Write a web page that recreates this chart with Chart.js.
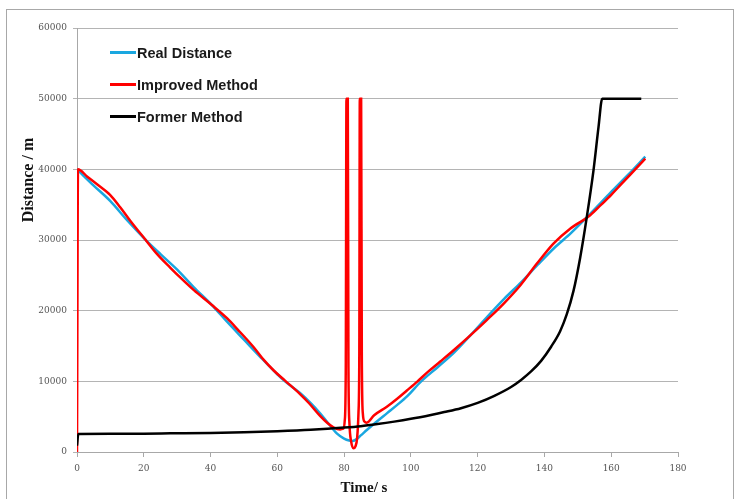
<!DOCTYPE html>
<html>
<head>
<meta charset="utf-8">
<title>Distance vs Time</title>
<script src="https://cdn.jsdelivr.net/npm/chart.js@4.4.1/dist/chart.umd.min.js"></script>
<style>
    html, body { margin: 0; padding: 0; background: #fff; }
    #wrap { width: 738px; height: 499px; }
</style>
</head>
<body>
<div id="wrap"><canvas id="distCanvas" width="738" height="499"></canvas></div>
<script>
// Data (time in s, distance in m)
const xTicks = [0, 20, 40, 60, 80, 100, 120, 140, 160, 180];
const yTicks = [0, 10000, 20000, 30000, 40000, 50000, 60000];

const realTime = [0, 5, 10, 15, 20.4, 25, 30, 35, 40.4, 45, 50, 55, 60, 62.3, 66.8, 70, 72.8, 75, 77.8, 80, 81.5, 82.5, 83.5, 85, 86.8, 89, 92.8, 96, 99, 103, 108, 113, 118, 123, 128, 133, 138, 143, 148, 153.7, 160, 165, 170.2];
const realDist = [40000, 37700, 35500, 32800, 30100, 28000, 25800, 23300, 20800, 18400, 15900, 13400, 11000, 10000, 8340, 6900, 5470, 4200, 2640, 1900, 1620, 1560, 1750, 2350, 3110, 4000, 5470, 6700, 7950, 9950, 12000, 14100, 16600, 19200, 21700, 24000, 26500, 28900, 31000, 33700, 36800, 39200, 41800];

const improvedTime = [0, 0.3, 3, 6, 9.9, 13, 16, 20.4, 24, 27.9, 30.9, 35, 40.4, 45, 48, 52.8, 56, 59, 62.3, 66.8, 69.5, 72.8, 75, 76.8, 78.8, 79.8, 80.2, 80.5, 80.7, 81.1, 81.3, 81.6, 82.1, 82.8, 83.4, 83.9, 84.3, 84.55, 84.7, 85.1, 85.3, 85.6, 86.1, 86.8, 89, 92.8, 95.8, 98.8, 102, 105, 108.8, 112.8, 117.8, 122.8, 127.8, 132.8, 137.8, 142.7, 147.7, 153.7, 157, 160, 163, 166, 170.2];
const improvedDist = [0, 40000, 39000, 37900, 36400, 34600, 32700, 30100, 28000, 26100, 24700, 22900, 20800, 18900, 17400, 14900, 13000, 11500, 10100, 8200, 6900, 5100, 4100, 3500, 3200, 3300, 4500, 12000, 50000, 50000, 12000, 4000, 1500, 520, 800, 2000, 5500, 14000, 50000, 50000, 14000, 5500, 4300, 4150, 5200, 6400, 7500, 8700, 10000, 11300, 12800, 14400, 16500, 18700, 21000, 23600, 26700, 29500, 31600, 33500, 35000, 36400, 37900, 39400, 41500];

const formerTime = [0, 0.4, 10, 20, 28, 40, 50, 60, 70, 80, 85, 90, 95, 100, 106, 110, 115, 120, 125, 130, 133, 136, 139, 142, 144.7, 146.7, 148.7, 150.7, 152.7, 154.7, 156.2, 157.3, 169];
const formerDist = [900, 2550, 2580, 2600, 2640, 2700, 2800, 2950, 3150, 3450, 3650, 3950, 4300, 4700, 5250, 5650, 6200, 6950, 7950, 9200, 10200, 11400, 12900, 14900, 17100, 19500, 22800, 27500, 33300, 39900, 46000, 50000, 50000];

const seriesNames = ['Real Distance', 'Improved Method', 'Former Method'];
const seriesColors = ['#1AA7E0', '#FF0000', '#000000'];

const toPoints = (ts, ds) => ts.map((t, i) => ({ x: t, y: ds[i] }));

// Frame and white background
const framePlugin = {
    id: 'frame',
    beforeDraw(chart) {
        const ctx = chart.ctx;
        ctx.save();
        ctx.fillStyle = '#ffffff';
        ctx.fillRect(0, 0, chart.width, chart.height);
        ctx.strokeStyle = '#A8A8A8';
        ctx.lineWidth = 1;
        ctx.strokeRect(6.5, 9.5, 727, 492);
        ctx.restore();
    }
};

// Legend inside plot + axis titles
const labelsPlugin = {
    id: 'labels',
    afterDraw(chart) {
        const ctx = chart.ctx;
        ctx.save();
        const rows = [52.5, 84.5, 116.5];
        chart.data.datasets.forEach((ds, i) => {
            ctx.strokeStyle = ds.borderColor;
            ctx.lineWidth = 3;
            ctx.beginPath();
            ctx.moveTo(110, rows[i]);
            ctx.lineTo(136, rows[i]);
            ctx.stroke();
            ctx.fillStyle = '#1a1a1a';
            ctx.font = 'bold 14.5px "Liberation Sans", Arial, sans-serif';
            ctx.textBaseline = 'middle';
            ctx.textAlign = 'left';
            ctx.fillText(ds.label, 137, rows[i] + 1);
        });

        ctx.fillStyle = '#111';
        ctx.font = 'bold 15px "Liberation Serif", "Times New Roman", serif';
        ctx.textAlign = 'center';
        ctx.textBaseline = 'alphabetic';
        ctx.fillText('Time/ s', 364, 492);

        ctx.translate(33, 180);
        ctx.rotate(-Math.PI / 2);
        ctx.font = 'bold 16px "Liberation Serif", "Times New Roman", serif';
        ctx.fillText('Distance / m', 0, 0);
        ctx.restore();
    }
};

const ctx = document.getElementById('distCanvas').getContext('2d');
new Chart(ctx, {
    type: 'line',
    data: {
        datasets: [
            { label: seriesNames[0], data: toPoints(realTime, realDist), borderColor: seriesColors[0], borderWidth: 2.5, order: 3 },
            { label: seriesNames[1], data: toPoints(improvedTime, improvedDist), borderColor: seriesColors[1], borderWidth: 2.5, order: 2 },
            { label: seriesNames[2], data: toPoints(formerTime, formerDist), borderColor: seriesColors[2], borderWidth: 2.5, order: 1 }
        ]
    },
    options: {
        responsive: false,
        animation: false,
        devicePixelRatio: 1,
        layout: { padding: { left: 0, right: 60, top: 28, bottom: 0 } },
        elements: {
            point: { radius: 0 },
            line: { tension: 0, cubicInterpolationMode: 'monotone', fill: false }
        },
        plugins: { legend: { display: false }, tooltip: { enabled: false } },
        scales: {
            x: {
                type: 'linear',
                min: 0, max: 180,
                afterBuildTicks: s => { s.ticks = xTicks.map(v => ({ value: v })); },
                afterFit: s => { s.height = 47; },
                grid: { drawOnChartArea: false, color: '#A8A8A8', tickLength: 5 },
                border: { color: '#A8A8A8' },
                ticks: { color: '#555', padding: 6, font: { family: '"DejaVu Serif", serif', size: 9 }, maxRotation: 0 }
            },
            y: {
                min: 0, max: 60000,
                afterBuildTicks: s => { s.ticks = yTicks.map(v => ({ value: v })); },
                afterFit: s => { s.width = 77; },
                grid: { color: '#B4B4B4', tickLength: 4 },
                border: { color: '#A8A8A8' },
                ticks: { color: '#555', padding: 6, font: { family: '"DejaVu Serif", serif', size: 9 }, callback: v => String(v) }
            }
        }
    },
    plugins: [framePlugin, labelsPlugin]
});
</script>
</body>
</html>
